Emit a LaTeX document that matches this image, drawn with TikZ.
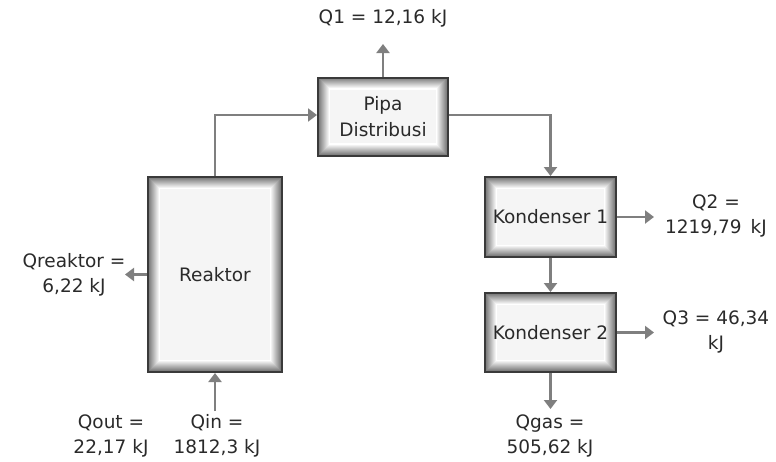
\documentclass[tikz,border=0pt]{standalone}
\usepackage{fontspec}
\setmainfont{DejaVu Sans}
\usetikzlibrary{arrows.meta,calc}
\definecolor{arr}{HTML}{7F7F7F}
\definecolor{txt}{HTML}{2A2A2A}
\definecolor{bord}{HTML}{3A3A3A}
\tikzset{
  procbox/.style={draw=bord, line width=2pt, fill=white!96!black, text=txt,
    font=\fontsize{18.5}{26}\selectfont, align=center, inner sep=0pt,
    path picture={
      \foreach \i [evaluate=\i as \c using {max(0,55-\i*5)}] in {0,...,11}{
        \draw[black!\c, line width=1.1pt]
          ($(path picture bounding box.north west)+(\i*1pt+0.5pt,-\i*1pt-0.5pt)$)
          rectangle
          ($(path picture bounding box.south east)+(-\i*1pt-0.5pt,\i*1pt+0.5pt)$);
      }
    }},
  flow/.style={draw=arr, line width=2.6pt, -{Triangle[length=9pt,width=13pt]}},
  lbl/.style={text=txt, font=\fontsize{18.5}{25}\selectfont, align=center, inner sep=0pt}
}
\begin{document}
\begin{tikzpicture}[x=1pt,y=-1pt]
\useasboundingbox (0,0) rectangle (776,461);
\node[procbox, minimum width=130pt, minimum height=78pt] (pipa) at (383,116.5) {Pipa\\Distribusi};
\node[procbox, minimum width=134pt, minimum height=195pt] (reak) at (215,274.5) {Reaktor};
\node[procbox, minimum width=131pt, minimum height=80pt] (k1) at (550.5,217) {Kondenser 1};
\node[procbox, minimum width=131pt, minimum height=79pt] (k2) at (550.5,332.5) {Kondenser 2};

\node[lbl] (q1) at (383,18) {Q1 = 12,16 kJ};
\node[lbl] (q2) at (716,215.5) {Q2 =\\1219,79\, kJ};
\node[lbl] (q3) at (716,331.5) {Q3 = 46,34\\kJ};
\node[lbl] (qgas) at (550,435.5) {Qgas =\\505,62 kJ};
\node[lbl] (qr) at (74,274.5) {Qreaktor =\\6,22 kJ};
\node[lbl] (qin) at (217,435.5) {Qin =\\1812,3 kJ};
\node[lbl] (qout) at (111,435.5) {Qout =\\22,17 kJ};

\coordinate (q1e) at (pipa.north |- 0,44);
\coordinate (q2e) at (654,0 |- k1.east);
\coordinate (q3e) at (654,0 |- k2.east);
\coordinate (qge) at (k2.south |- 0,409);
\coordinate (qre) at (125,0 |- reak.west);
\coordinate (qis) at (reak.south |- 0,411);
\coordinate (rk) at (reak.north |- 0,115);
\coordinate (pk) at (k1.north |- 0,115);

\draw[flow] (reak.north) -- (rk) -- (pipa.west |- rk);
\draw[flow] (pipa.east |- pk) -- (pk) -- (k1.north);
\draw[flow] (pipa.north) -- (q1e);
\draw[flow] (k1.east) -- (q2e);
\draw[flow] (k1.south) -- (k2.north);
\draw[flow] (k2.east) -- (q3e);
\draw[flow] (k2.south) -- (qge);
\draw[flow] (reak.west) -- (qre);
\draw[flow] (qis) -- (reak.south);
\end{tikzpicture}
\end{document}
